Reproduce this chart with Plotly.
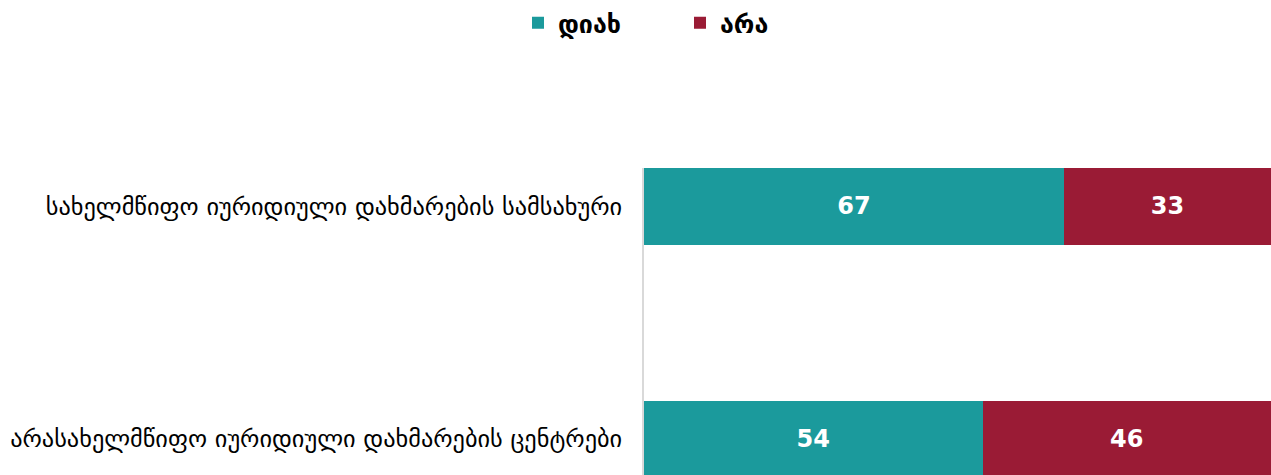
import plotly.graph_objects as go

categories = ["სახელმწიფო იურიდიული დახმარების სამსახური",
              "არასახელმწიფო იურიდიული დახმარების ცენტრები"]
yes_vals = [67, 54]
no_vals = [33, 46]
series_names = ["დიახ", "არა"]
colors = ["#1B9A9C", "#9A1B35"]

fig = go.Figure()
for name, vals, col in zip(series_names, [yes_vals, no_vals], colors):
    fig.add_trace(go.Bar(
        y=categories, x=vals, name=name, orientation="h",
        marker=dict(color=col, line=dict(width=0)),
        text=[str(v) for v in vals], textposition="inside",
        insidetextanchor="middle", textangle=0,
        textfont=dict(color="white", size=24, family="DejaVu Sans", weight="bold"),
        width=0.33,
    ))

fig.update_layout(
    barmode="stack",
    width=1271, height=475,
    margin=dict(l=644, r=0, t=168, b=0),
    paper_bgcolor="white", plot_bgcolor="white",
    font=dict(family="DejaVu Sans", color="black"),
    showlegend=True,
    legend=dict(orientation="h", x=0.535, xanchor="center", xref="container",
                y=1.0, yanchor="top", yref="container",
                font=dict(size=25, weight="bold", color="black"),
                entrywidth=117, traceorder="normal"),
    uniformtext=dict(minsize=10, mode="show"),
)
fig.update_xaxes(range=[0, 100], visible=False, fixedrange=True)
fig.update_yaxes(type="category", categoryorder="array", categoryarray=categories,
                 range=[1.155, -0.165], showline=True, linecolor="#d9d9d9", linewidth=2,
                 showgrid=False, ticks="", ticklabelstandoff=15,
                 tickfont=dict(size=24.3, color="black"))

fig.write_html("out.html", config={"displayModeBar": False},
               post_script="document.body.style.margin='0';document.body.style.overflow='hidden';")
